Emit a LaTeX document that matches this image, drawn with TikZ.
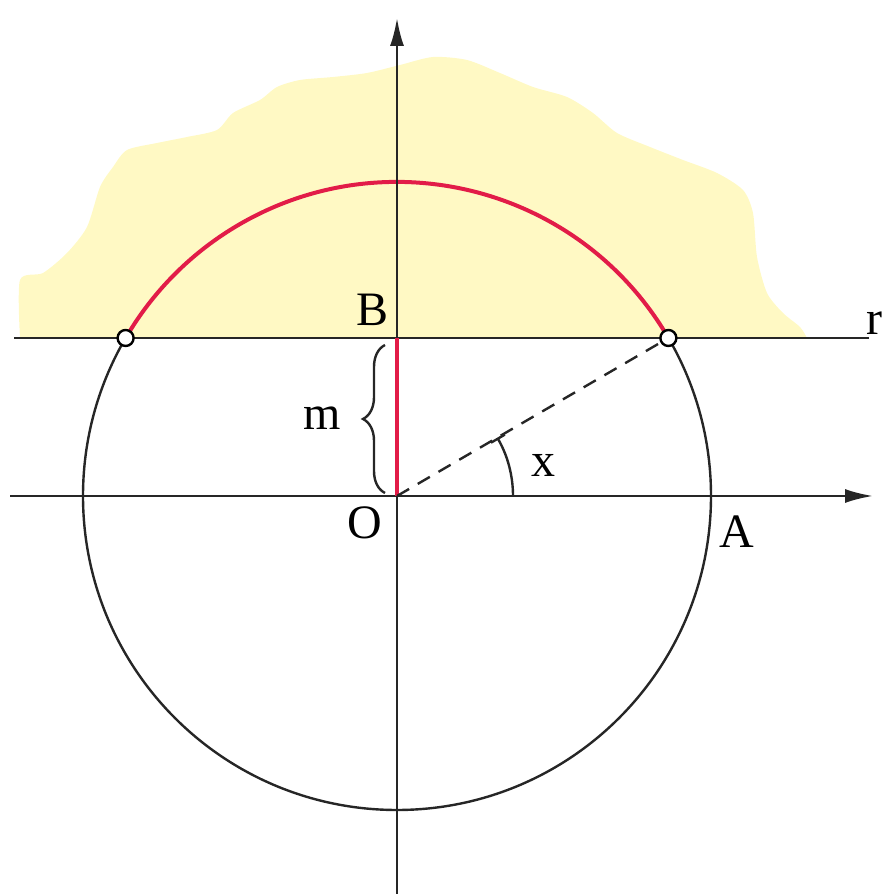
\documentclass[tikz,border=0pt]{standalone}
\usepackage{fontspec}
\setmainfont{Liberation Serif}
\usetikzlibrary{arrows.meta,decorations.pathreplacing}
\definecolor{cloudyellow}{RGB}{255,249,196}
\definecolor{arcred}{RGB}{226,28,72}
\begin{document}
\begin{tikzpicture}[x=0.5pt,y=0.5pt,
  thinline/.style={line width=1.2pt,black!85},
  axisline/.style={line width=1.2pt,black!85,-{Latex[length=14pt,width=7pt]}},
  redline/.style={line width=2pt,arcred},
  dashline/.style={line width=1.2pt,black!85,dash pattern=on 7pt off 5pt},
  opendot/.style={circle,draw=black,fill=white,line width=1.2pt,inner sep=0pt,minimum size=8pt},
  lbl/.style={font=\fontsize{24}{28}\selectfont,inner sep=0pt}]
\useasboundingbox (0,0) rectangle (885,894);
% key points
\coordinate (O) at (397,398);
\coordinate (B) at (397,556);
\coordinate (P1) at (125.6,556);
\coordinate (P2) at (668.4,556);
\coordinate (XL) at (10,398);
\coordinate (XR) at (873,398);
\coordinate (YB) at (397,0);
\coordinate (YT) at (397,876);
\coordinate (RL) at (14,556);
\coordinate (RR) at (869,556);
\coordinate (Aax) at (513,398);
\coordinate (BrB) at (385,401);
\coordinate (BrT) at (385,549);
% yellow region
\fill[cloudyellow] plot[smooth,tension=0.45] coordinates {
 (20,556) (20,614) (43,621) (67,641) (87,667) (100,707) (113,727) (127,744)
 (157,751) (187,757) (217,764) (233,781) (260,794) (277,807) (300,814)
 (333,817) (367,821) (400,829) (433,837) (467,834) (500,821) (533,807)
 (567,797) (593,781) (617,761) (650,747) (683,734) (717,721) (743,704)
 (753,681) (757,637) (767,601) (783,581) (800,567) (807,556)} -- cycle;
% circle
\draw[thinline] (O) circle[radius=314];
% red arc above r
\draw[redline] (P2) arc[start angle=30.2,end angle=149.8,radius=314];
% axes
\draw[axisline] (XL) -- (XR);
\draw[axisline] (YB) -- (YT);
% line r
\draw[thinline] (RL) -- (RR);
% red segment OB
\draw[redline] (O) -- (B);
% dashed radius
\draw[dashline] (O) -- (P2);
% angle arc
\draw[thinline,-{Bar[width=8pt,line width=1.2pt]}] (Aax) arc[start angle=0,end angle=30.2,radius=116];
% brace
\draw[thinline,decorate,decoration={brace,amplitude=11pt}] (BrB) -- (BrT);
% open dots
\node[opendot] (d1) at (P1) {};
\node[opendot] (d2) at (P2) {};
% labels
\node[lbl] (lB) at (373,584) {B};
\node[lbl] (lO) at (365,371) {O};
\node[lbl] (lA) at (737,362) {A};
\node[lbl] (lr) at (874,571) {r};
\node[lbl] (lx) at (543,429) {x};
\node[lbl] (lm) at (322,476) {m};
\end{tikzpicture}
\end{document}
